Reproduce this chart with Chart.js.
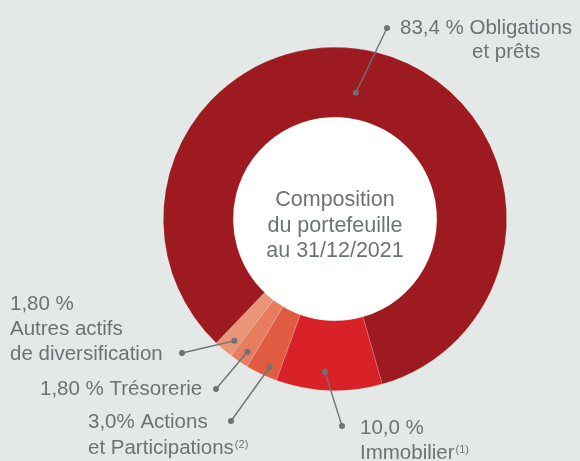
<!DOCTYPE html>
<html>
<head>
<meta charset="utf-8">
<script src="https://cdn.jsdelivr.net/npm/chart.js@4"></script>
<style>
  html, body { margin: 0; padding: 0; background: #e4e8e6; }
  #wrap { width: 580px; height: 461px; position: relative; }
</style>
</head>
<body>
<div id="wrap"><canvas id="composition"></canvas></div>
<script>
// portfolio composition at 31/12/2021, in percent
var categories = ["Immobilier", "Actions et Participations", "Trésorerie", "Autres actifs de diversification", "Obligations et prêts"];
var values = [10.0, 3.0, 1.8, 1.8, 83.4];
var colors = ["#d92228", "#e05b41", "#e77c5f", "#ea9478", "#9d1a20"];
var centerLines = ["Composition", "du portefeuille", "au 31/12/2021"];

var textColor = "#6c7375";
var fontFamily = "'Liberation Sans', Arial, sans-serif";

// callouts: text lines, where the leader starts inside the slice (t along slice, r radius)
// and where it ends next to the text
var callouts = [
    { i: 0, t: 0.55, r: 153, end: [342, 426], lines: [["10,0 %", 360, 434], ["Immobilier", 360, 459, "(1)"]] },
    { i: 1, t: 0.35, r: 162, end: [231, 421], lines: [["3,0% Actions", 88, 428], ["et Participations", 88, 454, "(2)"]] },
    { i: 2, t: 0.4, r: 159, end: [216, 389], lines: [["1,80 % Trésorerie", 40, 395]] },
    { i: 3, t: 0.35, r: 158, end: [182, 353], lines: [["1,80 %", 10, 310], ["Autres actifs", 10, 335], ["de diversification", 10, 360]] },
    { i: 4, t: 0.485, r: 128, end: [387, 28], lines: [["83,4 % Obligations", 400, 34], ["et prêts", 472, 58]] }
];

function dot(ctx, x, y) {
    ctx.beginPath();
    ctx.arc(x, y, 3, 0, Math.PI * 2);
    ctx.fill();
}

var holePlugin = {
    id: "hole",
    beforeDatasetsDraw: function(chart) {
        var arc = chart.getDatasetMeta(0).data[0];
        var ctx = chart.ctx;
        ctx.save();
        ctx.fillStyle = "#ffffff";
        ctx.beginPath();
        ctx.arc(arc.x, arc.y, arc.innerRadius + 1, 0, Math.PI * 2);
        ctx.fill();
        ctx.restore();
    }
};

var labelPlugin = {
    id: "labels",
    afterDraw: function(chart) {
        var ctx = chart.ctx;
        var arcs = chart.getDatasetMeta(0).data;
        var c = arcs[0];
        ctx.save();

        // centre text
        ctx.fillStyle = textColor;
        ctx.font = "21.5px " + fontFamily;
        ctx.textAlign = "center";
        ctx.textBaseline = "alphabetic";
        centerLines.forEach(function(line, k) {
            ctx.fillText(line, c.x, 206 + k * 25.5);
        });

        // callouts
        ctx.textAlign = "left";
        ctx.strokeStyle = textColor;
        ctx.lineWidth = 1.4;
        callouts.forEach(function(co) {
            var a = arcs[co.i];
            var ang = a.startAngle + (a.endAngle - a.startAngle) * co.t;
            var sx = a.x + co.r * Math.cos(ang);
            var sy = a.y + co.r * Math.sin(ang);
            ctx.beginPath();
            ctx.moveTo(sx, sy);
            ctx.lineTo(co.end[0], co.end[1]);
            ctx.stroke();
            ctx.fillStyle = textColor;
            dot(ctx, sx, sy);
            dot(ctx, co.end[0], co.end[1]);

            co.lines.forEach(function(l) {
                ctx.font = "20.5px " + fontFamily;
                ctx.fillText(l[0], l[1], l[2]);
                if (l[3]) {
                    var w = ctx.measureText(l[0]).width;
                    ctx.font = "11px " + fontFamily;
                    ctx.fillText(l[3], l[1] + w + 1, l[2] - 6);
                }
            });
        });
        ctx.restore();
    }
};

var config = {
    type: "doughnut",
    data: {
        labels: categories,
        datasets: [{
            data: values,
            backgroundColor: colors,
            borderColor: "rgba(255,255,255,0.25)",
            borderWidth: 0.6
        }]
    },
    options: {
        responsive: true,
        maintainAspectRatio: false,
        animation: false,
        rotation: 164,
        cutout: "59.3%",
        layout: { padding: { left: 163, right: 73, top: 47, bottom: 70 } },
        plugins: {
            legend: { display: false },
            tooltip: { enabled: false }
        }
    },
    plugins: [holePlugin, labelPlugin]
};

var chart = new Chart(document.getElementById("composition"), config);
</script>
</body>
</html>
